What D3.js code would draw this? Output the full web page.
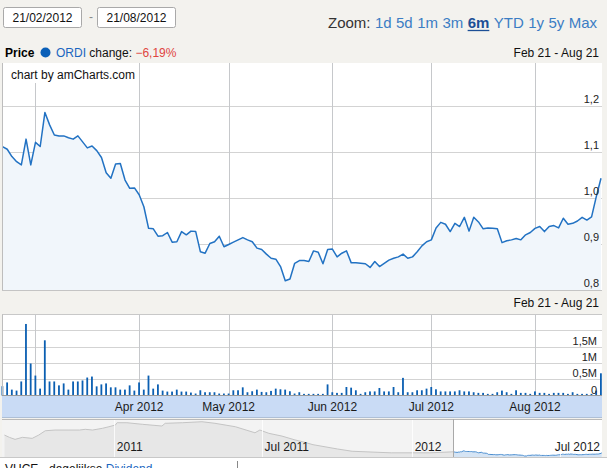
<!DOCTYPE html>
<html>
<head>
<meta charset="utf-8">
<script src="https://cdn.jsdelivr.net/npm/d3@7"></script>
<style>
body { margin: 0; background: #f3f2ee; }
text { font-family: "Liberation Sans", Arial, sans-serif; }
</style>
</head>
<body>
<svg id="chart" width="607" height="468"></svg>
<script>
// ---- data ----
var firstDay = "2012-02-21", lastDay = "2012-08-21";
var holidays = ["2012-04-06", "2012-04-09", "2012-05-01"];

var prices = [
    1.1118, 1.106, 1.090, 1.079, 1.072, 1.128, 1.072, 1.121, 1.112, 1.186,
    1.159, 1.137, 1.135, 1.135, 1.131, 1.128, 1.135, 1.122, 1.109, 1.113,
    1.103, 1.088, 1.055, 1.043, 1.074, 1.075, 1.039, 1.021, 1.022, 1.007,
    0.981, 0.934, 0.933, 0.917, 0.918, 0.925, 0.904, 0.905, 0.927, 0.920,
    0.928, 0.927, 0.883, 0.880, 0.901, 0.905, 0.917, 0.894, 0.899, 0.904,
    0.909, 0.914, 0.909, 0.905, 0.891, 0.888, 0.878, 0.869, 0.867, 0.851,
    0.820, 0.824, 0.858, 0.864, 0.864, 0.862, 0.885, 0.882, 0.857, 0.888,
    0.889, 0.872, 0.880, 0.885, 0.859, 0.859, 0.858, 0.857, 0.849, 0.862,
    0.851, 0.858, 0.865, 0.869, 0.872, 0.878, 0.869, 0.872, 0.883, 0.896,
    0.905, 0.909, 0.935, 0.947, 0.943, 0.927, 0.945, 0.938, 0.958, 0.928,
    0.958, 0.948, 0.933, 0.935, 0.934, 0.933, 0.903, 0.907, 0.909, 0.912,
    0.909, 0.920, 0.925, 0.934, 0.938, 0.927, 0.938, 0.940, 0.935, 0.956,
    0.943, 0.945, 0.950, 0.958, 0.952, 0.959, 1.003, 1.043
];

// volume in millions
var volumes = [
    0.285, 0.40, 0.18, 0.15, 0.43, 2.19, 0.98, 0.61, 0.21, 1.69,
    0.43, 0.43, 0.31, 0.37, 0.18, 0.43, 0.43, 0.46, 0.55, 0.58,
    0.28, 0.34, 0.37, 0.25, 0.25, 0.18, 0.18, 0.31, 0.15, 0.40,
    0.18, 0.61, 0.21, 0.34, 0.15, 0.12, 0.12, 0.18, 0.12, 0.12,
    0.09, 0.06, 0.16, 0.10, 0.10, 0.10, 0.06, 0.06, 0.06, 0.16,
    0.16, 0.25, 0.10, 0.13, 0.18, 0.11, 0.10, 0.14, 0.21, 0.19,
    0.18, 0.13, 0.06, 0.10, 0.05, 0.05, 0.05, 0.05, 0.05, 0.34,
    0.10, 0.08, 0.08, 0.26, 0.24, 0.16, 0.05, 0.10, 0.125, 0.125,
    0.23, 0.125, 0.125, 0.26, 0.10, 0.54, 0.10, 0.10, 0.16, 0.16,
    0.21, 0.26, 0.19, 0.125, 0.125, 0.125, 0.125, 0.16, 0.125, 0.125,
    0.10, 0.08, 0.08, 0.05, 0.05, 0.10, 0.15, 0.10, 0.05, 0.16,
    0.08, 0.08, 0.05, 0.125, 0.08, 0.08, 0.05, 0.08, 0.08, 0.08,
    0.05, 0.10, 0.05, 0.05, 0.05, 0.05, 0.15, 0.68
];

var priceTicks = [0.8, 0.9, 1.0, 1.1, 1.2];
var volumeGrid = [0.5, 1, 1.5, 2];
var volumeTicks = [0, 0.5, 1, 1.5];
var monthLabels = ["", "Apr 2012", "May 2012", "Jun 2012", "Jul 2012", "Aug 2012"];

// long history for the scrollbar
var navDates = [
    "2010-08-20", "2010-08-26", "2010-09-02", "2010-09-11", "2010-09-23", "2010-10-01",
    "2010-10-09", "2010-10-21", "2010-11-07", "2010-11-20", "2010-11-27", "2010-12-06",
    "2010-12-18", "2010-12-26", "2011-01-03", "2011-01-05", "2011-01-17", "2011-02-05",
    "2011-03-01", "2011-03-05", "2011-03-26", "2011-04-19", "2011-05-05", "2011-05-30",
    "2011-06-23", "2011-06-29", "2011-07-10", "2011-07-26", "2011-08-11", "2011-08-20",
    "2011-09-02", "2011-10-02", "2011-10-20", "2011-12-07", "2012-01-23"
];
var navValues = [
    2.28, 2.12, 1.98, 2.12, 2.05, 2.28,
    2.58, 2.63, 2.63, 2.63, 2.68, 2.63,
    2.75, 2.86, 2.98, 3.14, 3.14, 3.03,
    2.91, 3.10, 3.14, 3.21, 3.10, 2.86,
    2.44, 2.63, 2.40, 2.21, 1.94, 1.82,
    1.61, 1.31, 1.15, 1.04, 1.04
];
var navTicks = ["2011-01-01", "2011-07-01", "2012-01-01", "2012-07-01"];
var navTickLabels = ["2011", "Jul 2011", "2012", "Jul 2012"];

var zoomButtons = ["1d", "5d", "1m", "3m", "6m", "YTD", "1y", "5y", "Max"];
var activeZoom = "6m";

// ---- helpers ----
var parse = d3.timeParse("%Y-%m-%d");
var fmtDay = d3.timeFormat("%Y-%m-%d");
var nl = d3.formatLocale({decimal: ",", thousands: ".", grouping: [3], currency: ["€", ""]});

function tradingDays(from, to, skip) {
    var out = [];
    d3.timeDay.range(parse(from), d3.timeDay.offset(parse(to), 1)).forEach(function(d) {
        var wd = d.getDay();
        if (wd !== 0 && wd !== 6 && skip.indexOf(fmtDay(d)) < 0) out.push(d);
    });
    return out;
}

var days = tradingDays(firstDay, lastDay, holidays);
var series = days.map(function(d, i) {
    return {date: d, key: fmtDay(d), price: prices[i], volume: volumes[i]};
});

// first trading day of each month shown
var monthStarts = series.filter(function(d, i) {
    return i > 0 && d.date.getMonth() !== series[i - 1].date.getMonth();
});

var svg = d3.select("#chart");
var W = 607;

svg.append("rect").attr("width", W).attr("height", 468).attr("fill", "#f3f2ee");

// ---- header: period inputs and zoom buttons ----
[["21/02/2012", 3], ["21/08/2012", 97]].forEach(function(b) {
    svg.append("rect").attr("x", b[1] + 0.5).attr("y", 7.5).attr("width", 78).attr("height", 20)
        .attr("rx", 2).attr("fill", "#fff").attr("stroke", "#a9a9a9");
    svg.append("text").attr("x", b[1] + 39.5).attr("y", 22).attr("text-anchor", "middle")
        .attr("font-size", 12).attr("fill", "#111").text(b[0]);
});
svg.append("text").attr("x", 89).attr("y", 21).attr("font-size", 12).attr("fill", "#888").text("-");

// zoom links: measure, then spread them between "Zoom:" and the right edge
var zStart = 328, zEnd = 597;
var zl = svg.append("text").attr("x", zStart).attr("y", 28).attr("font-size", 15).attr("fill", "#333").text("Zoom:");
var zItems = zoomButtons.map(function(z) {
    var on = z === activeZoom;
    var t = svg.append("text").attr("y", 28).attr("font-size", 15)
        .attr("font-weight", on ? "bold" : "normal")
        .attr("fill", on ? "#1c4f96" : "#3b7dc4").text(z);
    return {t: t, on: on, w: t.node().getComputedTextLength()};
});
var zUsed = zl.node().getComputedTextLength() + d3.sum(zItems, function(d) { return d.w; });
var zGap = (zEnd - zStart - zUsed) / zItems.length;
var zx = zStart + zl.node().getComputedTextLength() + zGap;
zItems.forEach(function(it) {
    it.t.attr("x", zx);
    if (it.on) {
        svg.append("line").attr("x1", zx).attr("x2", zx + it.w).attr("y1", 30.5).attr("y2", 30.5)
            .attr("stroke", "#1c4f96").attr("stroke-width", 1.3);
    }
    zx += it.w + zGap;
});

// legend row
var lg = svg.append("text").attr("x", 5).attr("y", 57).attr("font-size", 12);
lg.append("tspan").attr("font-weight", "bold").attr("fill", "#000").text("Price");
svg.append("circle").attr("cx", 45.5).attr("cy", 52.5).attr("r", 5).attr("fill", "#0a5fb8");
var lg2 = svg.append("text").attr("x", 56).attr("y", 57).attr("font-size", 12);
lg2.append("tspan").attr("fill", "#1a66c0").text("ORDI");
lg2.append("tspan").attr("fill", "#111").text(" change: ");
lg2.append("tspan").attr("fill", "#e0453f")
    .text(nl.format(".2f")((prices[prices.length - 1] / prices[0] - 1) * 100) + "%");

function periodLabel(y) {
    svg.append("text").attr("x", 599).attr("y", y).attr("text-anchor", "end")
        .attr("font-size", 12).attr("fill", "#111").text("Feb 21 - Aug 21");
}
periodLabel(57);
periodLabel(307);

// ---- scales ----
var x = d3.scalePoint().domain(series.map(function(d) { return d.key; })).range([2.5, 601]);
var yP = d3.scaleLinear().domain([0.8, 1.2935]).range([290, 63]);
var yV = d3.scaleLinear().domain([0, 2.48]).range([395.5, 314.5]);

// ---- price panel ----
var pTop = 63, pBot = 290, left = 2, right = 602;
svg.append("rect").attr("x", left).attr("y", pTop).attr("width", right - left).attr("height", pBot - pTop)
    .attr("fill", "#fff");

svg.append("g").selectAll("line").data(priceTicks.slice(1)).enter().append("line")
    .attr("x1", left).attr("x2", right)
    .attr("y1", function(d) { return Math.round(yP(d)) + 0.5; })
    .attr("y2", function(d) { return Math.round(yP(d)) + 0.5; })
    .attr("stroke", "#d3d3d3");

svg.append("g").selectAll("line").data(monthStarts).enter().append("line")
    .attr("x1", function(d) { return Math.round(x(d.key)) + 0.5; })
    .attr("x2", function(d) { return Math.round(x(d.key)) + 0.5; })
    .attr("y1", pTop).attr("y2", pBot)
    .attr("stroke", "#c6c8cb");

var area = d3.area()
    .x(function(d) { return x(d.key); })
    .y0(pBot).y1(function(d) { return yP(d.price); });
var line = d3.line()
    .x(function(d) { return x(d.key); })
    .y(function(d) { return yP(d.price); });

svg.append("path").datum(series).attr("d", area).attr("fill", "#f1f6fb");
svg.append("path").datum(series).attr("d", line).attr("fill", "none")
    .attr("stroke", "#2272c3").attr("stroke-width", 1.5).attr("stroke-linejoin", "round");

svg.append("line").attr("x1", left + 0.5).attr("x2", left + 0.5).attr("y1", pTop).attr("y2", pBot)
    .attr("stroke", "#bdbdbd");
svg.append("line").attr("x1", left).attr("x2", right).attr("y1", pBot + 0.5).attr("y2", pBot + 0.5)
    .attr("stroke", "#c4c4c4");

svg.append("g").selectAll("text").data(priceTicks).enter().append("text")
    .attr("x", 599).attr("y", function(d) { return yP(d) - 3; })
    .attr("text-anchor", "end").attr("font-size", 11).attr("fill", "#222")
    .text(function(d) { return nl.format(".1f")(d); });

svg.append("rect").attr("x", left + 1).attr("y", pTop).attr("width", 124).attr("height", 20).attr("fill", "#fff");
svg.append("text").attr("x", 11).attr("y", 78.5).attr("font-size", 12).attr("fill", "#111")
    .text("chart by amCharts.com");

// ---- volume panel ----
var vTop = 314.5, vBot = 395.5;
svg.append("rect").attr("x", left).attr("y", vTop).attr("width", right - left).attr("height", vBot - vTop)
    .attr("fill", "#fff");
svg.append("line").attr("x1", left).attr("x2", right).attr("y1", vTop).attr("y2", vTop).attr("stroke", "#c8c8c8");

svg.append("g").selectAll("line").data(volumeGrid).enter().append("line")
    .attr("x1", left).attr("x2", right)
    .attr("y1", function(d) { return Math.round(yV(d)) + 0.5; })
    .attr("y2", function(d) { return Math.round(yV(d)) + 0.5; })
    .attr("stroke", "#d3d3d3");

svg.append("g").selectAll("line").data(monthStarts).enter().append("line")
    .attr("x1", function(d) { return Math.round(x(d.key)) + 0.5; })
    .attr("x2", function(d) { return Math.round(x(d.key)) + 0.5; })
    .attr("y1", vTop).attr("y2", vBot)
    .attr("stroke", "#c6c8cb");

svg.append("g").selectAll("rect").data(series).enter().append("rect")
    .attr("x", function(d) { return x(d.key) - 1; })
    .attr("width", 1.8)
    .attr("y", function(d) { return yV(d.volume); })
    .attr("height", function(d) { return yV(0) - yV(d.volume); })
    .attr("fill", "#0b5fb2");

svg.append("line").attr("x1", left + 0.5).attr("x2", left + 0.5).attr("y1", vTop).attr("y2", vBot)
    .attr("stroke", "#bdbdbd");
svg.append("line").attr("x1", left).attr("x2", right).attr("y1", vBot).attr("y2", vBot)
    .attr("stroke", "#9a9a9a");

svg.append("g").selectAll("text").data(volumeTicks).enter().append("text")
    .attr("x", 597).attr("y", function(d) { return yV(d) - 2; })
    .attr("text-anchor", "end").attr("font-size", 11).attr("fill", "#222")
    .text(function(d) { return d === 0 ? "0" : nl.format("~g")(d) + "M"; });

// ---- category axis band ----
svg.append("rect").attr("x", left).attr("y", vBot + 0.5).attr("width", right - left).attr("height", 21.5)
    .attr("fill", "#c9dbf5");
svg.append("line").attr("x1", left).attr("x2", right).attr("y1", 417.5).attr("y2", 417.5).attr("stroke", "#aebfd6");
svg.append("g").selectAll("text").data(monthStarts).enter().append("text")
    .attr("x", function(d) { return x(d.key); }).attr("y", 411)
    .attr("text-anchor", "middle").attr("font-size", 12).attr("fill", "#1a1a1a")
    .text(function(d, i) { return monthLabels[i]; });

// ---- scrollbar / navigator ----
var nTop = 419, nBot = 457;
var nx = d3.scaleTime().domain([parse("2010-08-17"), parse("2012-08-20")]).range([2, 601]);
var ny = d3.scaleLinear().domain([0.75, 3.4]).range([nBot, nTop]);
var navSeries = navDates.map(function(d, i) { return {date: parse(d), v: navValues[i]}; })
    .concat(series.map(function(d) { return {date: d.date, v: d.price}; }));
var selX = nx(days[0]);

var defs = svg.append("defs");
defs.append("clipPath").attr("id", "navOff").append("rect")
    .attr("x", left).attr("y", nTop).attr("width", selX - left).attr("height", nBot - nTop);
defs.append("clipPath").attr("id", "navOn").append("rect")
    .attr("x", selX).attr("y", nTop).attr("width", right - selX).attr("height", nBot - nTop);

svg.append("rect").attr("x", left).attr("y", nTop).attr("width", selX - left).attr("height", nBot - nTop)
    .attr("fill", "#f3f3f3");
svg.append("rect").attr("x", selX).attr("y", nTop).attr("width", right - selX).attr("height", nBot - nTop)
    .attr("fill", "#fff");

var nArea = d3.area().x(function(d) { return nx(d.date); }).y0(nBot).y1(function(d) { return ny(d.v); });
var nLine = d3.line().x(function(d) { return nx(d.date); }).y(function(d) { return ny(d.v); });

var off = svg.append("g").attr("clip-path", "url(#navOff)");
off.append("path").datum(navSeries).attr("d", nArea).attr("fill", "#e7e7e7");
off.append("path").datum(navSeries).attr("d", nLine).attr("fill", "none").attr("stroke", "#c4c4c4");
var on = svg.append("g").attr("clip-path", "url(#navOn)");
on.append("path").datum(navSeries).attr("d", nArea).attr("fill", "#d5e4f4");
on.append("path").datum(navSeries).attr("d", nLine).attr("fill", "none").attr("stroke", "#4d8fd0");

svg.append("g").selectAll("line").data(navTicks).enter().append("line")
    .attr("x1", function(d) { return Math.round(nx(parse(d))) + 0.5; })
    .attr("x2", function(d) { return Math.round(nx(parse(d))) + 0.5; })
    .attr("y1", nTop).attr("y2", nBot)
    .attr("stroke", "#fff").attr("stroke-opacity", 0.8);

svg.append("g").selectAll("text").data(navTicks).enter().append("text")
    .attr("y", 451).attr("font-size", 12).attr("fill", "#1a1a1a")
    .text(function(d, i) { return navTickLabels[i]; })
    .attr("x", function(d) {
        var w = this.getComputedTextLength();
        return Math.min(nx(parse(d)) + 3, 600 - w);
    });

svg.append("line").attr("x1", left).attr("x2", right).attr("y1", nTop + 0.5).attr("y2", nTop + 0.5).attr("stroke", "#b9b9b9");
svg.append("line").attr("x1", Math.round(selX) + 0.5).attr("x2", Math.round(selX) + 0.5)
    .attr("y1", nTop).attr("y2", nBot).attr("stroke", "#a9a9a9");

// ---- below the chart (cut off by the window, as in the original) ----
svg.append("rect").attr("x", 0).attr("y", nBot).attr("width", W).attr("height", 468 - nBot).attr("fill", "#fff");
svg.append("line").attr("x1", 0).attr("x2", W).attr("y1", nBot + 0.5).attr("y2", nBot + 0.5).attr("stroke", "#c8c8c8");
var foot = svg.append("text").attr("x", 5).attr("y", 473).attr("font-size", 12);
foot.append("tspan").attr("fill", "#111").text("VHCE - dagelijkse ");
foot.append("tspan").attr("fill", "#1a66c0").text("  Dividend");
svg.append("line").attr("x1", 237.5).attr("x2", 237.5).attr("y1", 461).attr("y2", 468).attr("stroke", "#888");
</script>
</body>
</html>
